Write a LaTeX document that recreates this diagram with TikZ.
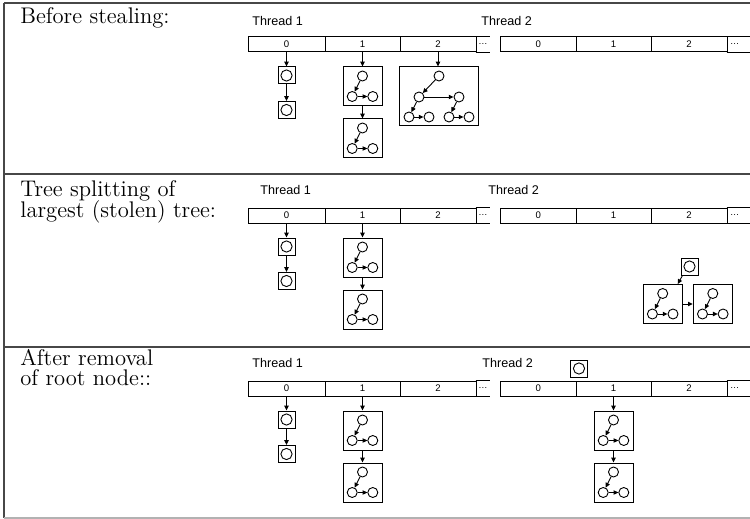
\documentclass[tikz,border=0pt]{standalone}
\usepackage{fontspec}
\setsansfont{Liberation Sans}
\usetikzlibrary{arrows.meta}
\tikzset{
  frameline/.style={draw=black!72,line width=0.7pt},
  lbl/.style={anchor=base west,inner sep=0,font=\fontsize{11.3}{10}\selectfont},
  thr/.style={anchor=base west,inner sep=0,font=\sffamily\fontsize{6.3}{7}\selectfont},
  cell/.style={draw,line width=0.5pt,minimum height=7.5pt,inner sep=0,font=\sffamily\fontsize{4.8}{5}\selectfont},
  dotcell/.style={minimum height=7.5pt,inner sep=0,font=\sffamily\fontsize{4.6}{5}\selectfont},
  sbox/.style={draw,line width=0.5pt,minimum size=8.5pt,inner sep=0},
  tbox/.style={draw,line width=0.5pt,minimum width=19.5pt,minimum height=19.5pt,inner sep=0},
  bbox/.style={draw,line width=0.5pt,minimum width=39.5pt,minimum height=29.5pt,inner sep=0},
  vert/.style={draw,circle,line width=0.45pt,minimum size=5pt,inner sep=0},
  arr/.style={line width=0.45pt,-{Triangle[length=2.4pt,width=2.2pt]}},
  thin/.style={line width=0.5pt},
}
\newcommand\onebox[3]{%
  \node[sbox] (#1) at (#2,#3) {};
  \node[vert,minimum size=5.6pt] (#1c) at (#2,#3) {};
}
\newcommand\tribox[3]{%
  \node[tbox] (#1) at (#2,#3) {};
  \node[vert] (#1t) at (#2,#3-10.5) {};
  \node[vert] (#1l) at (#2-10.3,#3+10) {};
  \node[vert] (#1r) at (#2+10.3,#3+10) {};
  \draw[arr] (#1t) -- (#1l);
  \draw[arr] (#1l) -- (#1r);
}
\newcommand\arrays[1]{%
  \node[cell,minimum width=38.5pt] (#1a0) at (286.5,41.5) {0};
  \node[cell,minimum width=37.5pt] (#1a1) at (362.5,41.5) {1};
  \node[cell,minimum width=38pt] (#1a2) at (438,41.5) {2};
  \node[dotcell,minimum width=7pt] (#1ad) at (483,41.5) {\ldots};
  \draw[thin] (#1ad.north west) -- (#1ad.north east) (#1ad.south west) -- (#1ad.south east);
  \node[cell,minimum width=37.75pt] (#1b0) at (538.25,41.5) {0};
  \node[cell,minimum width=37.5pt] (#1b1) at (613.5,41.5) {1};
  \node[cell,minimum width=38pt] (#1b2) at (689,41.5) {2};
  \node[dotcell,minimum width=7.75pt] (#1bd) at (734.75,41.5) {\ldots};
  \draw[thin] (#1bd.north west) -- ++(23,0) (#1bd.south west) -- ++(23,0);
}
\newcommand\leftlists[1]{%
  \onebox{#1p}{286.5}{72.5}
  \onebox{#1q}{286.5}{107}
  \draw[arr] (#1a0.south) -- (#1a0.south |- #1p.north);
  \draw[arr] (#1p.south) -- (#1q.north);
  \tribox{#1c}{362.5}{83.5}
  \tribox{#1d}{362.5}{135.5}
  \draw[arr] (#1a1.south) -- (#1a1.south |- #1c.north);
  \draw[arr] (#1c.south) -- (#1d.north);
}
\begin{document}
\begin{tikzpicture}[x=0.5pt,y=-0.5pt]
\useasboundingbox (0,0) rectangle (750,519);
% frame
\draw[frameline] (4,3) -- (750,3);
\draw[frameline] (4,174) -- (750,174);
\draw[frameline] (4,347) -- (750,347);
\draw[frameline] (4,3) -- (4,518);
\draw[draw=black!30,line width=0.6pt] (4,518) -- (750,518);
% left labels
\node[lbl] (l1) at (20,23.3) {Before stealing:};
\node[lbl] (l2a) at (20,197) {Tree splitting of};
\node[lbl] (l2b) at (20,217) {largest (stolen) tree:};
\node[lbl] (l3a) at (20,365) {After removal};
\node[lbl] (l3b) at (20,385) {of root node::};
% row 1
\begin{scope}[shift={(0,3)}]
  \node[thr] (p1t1) at (252,23) {Thread 1};
  \node[thr] (p1t2) at (481,23) {Thread 2};
  \arrays{r1}
  \leftlists{r1}
  \node[bbox] (r1e) at (438.5,93.5) {};
  \node[vert] (r1e0) at (439,73) {};
  \node[vert] (r1e1) at (419,94) {};
  \node[vert] (r1e2) at (459,94) {};
  \node[vert] (r1e3) at (409,114) {};
  \node[vert] (r1e4) at (429,114) {};
  \node[vert] (r1e5) at (449,114) {};
  \node[vert] (r1e6) at (469,114) {};
  \draw[arr] (r1a2.south) -- (r1a2.south |- r1e.north);
  \draw[arr] (r1e0) -- (r1e1);
  \draw[arr] (r1e1) -- (r1e2);
  \draw[arr] (r1e1) -- (r1e3);
  \draw[arr] (r1e3) -- (r1e4);
  \draw[arr] (r1e2) -- (r1e5);
  \draw[arr] (r1e5) -- (r1e6);
\end{scope}
% row 2
\begin{scope}[shift={(0,174)}]
  \node[thr] (p2t1) at (260,21) {Thread 1};
  \node[thr] (p2t2) at (488,21) {Thread 2};
  \arrays{r2}
  \leftlists{r2}
  \onebox{r2s}{689.5}{92.5}
  \tribox{r2f}{662.7}{130}
  \tribox{r2g}{712.8}{130}
  \draw[arr] ([xshift=1pt]r2s.south west) -- ([xshift=-2.5pt]r2f.north east);
  \draw[arr] (r2f.east) -- (r2g.west);
\end{scope}
% row 3
\begin{scope}[shift={(0,347)}]
  \node[thr] (p3t1) at (252,20) {Thread 1};
  \node[thr] (p3t2) at (482,20) {Thread 2};
  \arrays{r3}
  \leftlists{r3}
  \onebox{r3s}{579}{21.5}
  \tribox{r3f}{613.5}{83.5}
  \tribox{r3g}{613.5}{135.5}
  \draw[arr] (r3b1.south) -- (r3b1.south |- r3f.north);
  \draw[arr] (r3f.south) -- (r3g.north);
\end{scope}
\end{tikzpicture}
\end{document}
